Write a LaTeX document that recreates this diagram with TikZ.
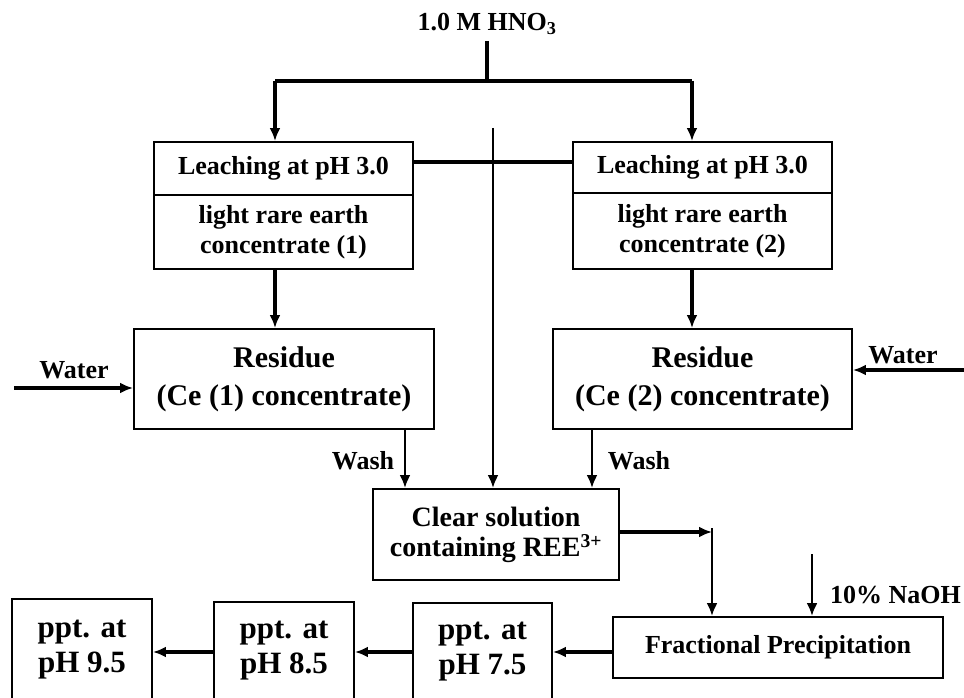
\documentclass[tikz,border=0pt]{standalone}
\usepackage{fontspec}
\setmainfont{Liberation Serif}
\usetikzlibrary{arrows.meta}
\begin{document}
\begin{tikzpicture}[x=1pt,y=-1pt,
  box/.style={draw,line width=1.9pt,inner sep=0pt,align=center,font=\bfseries\fontsize{26}{30}\selectfont},
  bigbox/.style={box,font=\bfseries\fontsize{30}{38}\selectfont},
  midbox/.style={box,font=\bfseries\fontsize{28}{30}\selectfont},
  pptbox/.style={box,font=\bfseries\fontsize{31}{35}\selectfont},
  conn/.style={line width=3.1pt},
  thinconn/.style={line width=2.4pt},
  arr/.style={line width=3.1pt,-{Latex[length=13pt,width=11pt]}},
  thinarr/.style={line width=2.4pt,-{Latex[length=13pt,width=11pt]}},
  lbl/.style={font=\bfseries\fontsize{26}{30}\selectfont,inner sep=0pt}]
\clip (0,0) rectangle (964,698);
\fill[white] (0,0) rectangle (964,698);

% nodes
\node[lbl] (hno3) at (487,24) {1.0 M HNO\textsubscript{3}};
\node[box,minimum width=259pt,minimum height=53pt] (leachL) at (283.5,168.5) {Leaching at pH 3.0};
\node[box,minimum width=259pt,minimum height=74pt] (lrL) at (283.5,232) {light rare earth\\concentrate (1)};
\node[box,minimum width=259pt,minimum height=51pt] (leachR) at (702.5,167.5) {Leaching at pH 3.0};
\node[box,minimum width=259pt,minimum height=76pt] (lrR) at (702.5,231) {light rare earth\\concentrate (2)};
\node[bigbox,minimum width=300pt,minimum height=100pt] (resL) at (284,379) {Residue\\(Ce (1) concentrate)};
\node[bigbox,minimum width=299pt,minimum height=100pt] (resR) at (702.5,379) {Residue\\(Ce (2) concentrate)};
\node[midbox,minimum width=246pt,minimum height=91pt] (clear) at (496,534.5) {Clear solution\\containing REE\textsuperscript{3+}};
\node[box,minimum width=330pt,minimum height=61pt] (frac) at (778,647.5) {Fractional Precipitation};
\node[pptbox,minimum width=139pt,minimum height=97pt] (p75) at (482.5,651.5) {ppt. at\\pH 7.5};
\node[pptbox,minimum width=140pt,minimum height=98pt] (p85) at (284,651) {ppt. at\\pH 8.5};
\node[pptbox,minimum width=140pt,minimum height=101pt] (p95) at (82,649.5) {ppt. at\\pH 9.5};

\node[lbl] (waterL) at (74,370) {Water};
\node[lbl] (waterR) at (903,355) {Water};
\node[lbl] (washL) at (363,461) {Wash};
\node[lbl] (washR) at (639,461) {Wash};
\node[lbl,anchor=west] (naohl) at (830,595) {10\% NaOH};

% coordinates
\coordinate (j) at (487,81);
\coordinate (jl) at (275,81);
\coordinate (jr) at (692,81);
\coordinate (hl) at (413,162);
\coordinate (ctop) at (493,128);
\coordinate (wl) at (14,388);
\coordinate (wr) at (966,370);
\coordinate (wshL) at (405,0);
\coordinate (wshR) at (592,0);
\coordinate (turn) at (712,532);
\coordinate (naoh) at (812,554);
\coordinate (py) at (0,652);

% connectors
\draw[conn] ([yshift=-6pt]hno3.south) -- (j);
\draw[conn] (jl) -- (jr);
\draw[arr] (jl) -- (jl |- leachL.north);
\draw[arr] (jr) -- (jr |- leachR.north);
\draw[conn] (leachL.east |- hl) -- (leachR.west |- hl);
\draw[thinarr] (ctop) -- (ctop |- clear.north);
\draw[arr] (lrL.south -| jl) -- (resL.north -| jl);
\draw[arr] (lrR.south -| jr) -- (resR.north -| jr);
\draw[arr] (wl) -- (wl -| resL.west);
\draw[arr] (wr) -- (wr -| resR.east);
\draw[thinarr] (resL.south -| wshL) -- (clear.north -| wshL);
\draw[thinarr] (resR.south -| wshR) -- (clear.north -| wshR);
\draw[arr] (clear.east |- turn) -- (turn);
\draw[thinarr] ([yshift=4pt]turn) -- (frac.north -| turn);
\draw[thinarr] (naoh) -- (frac.north -| naoh);
\draw[arr] (frac.west |- py) -- (p75.east |- py);
\draw[arr] (p75.west |- py) -- (p85.east |- py);
\draw[arr] (p85.west |- py) -- (p95.east |- py);
\end{tikzpicture}
\end{document}
